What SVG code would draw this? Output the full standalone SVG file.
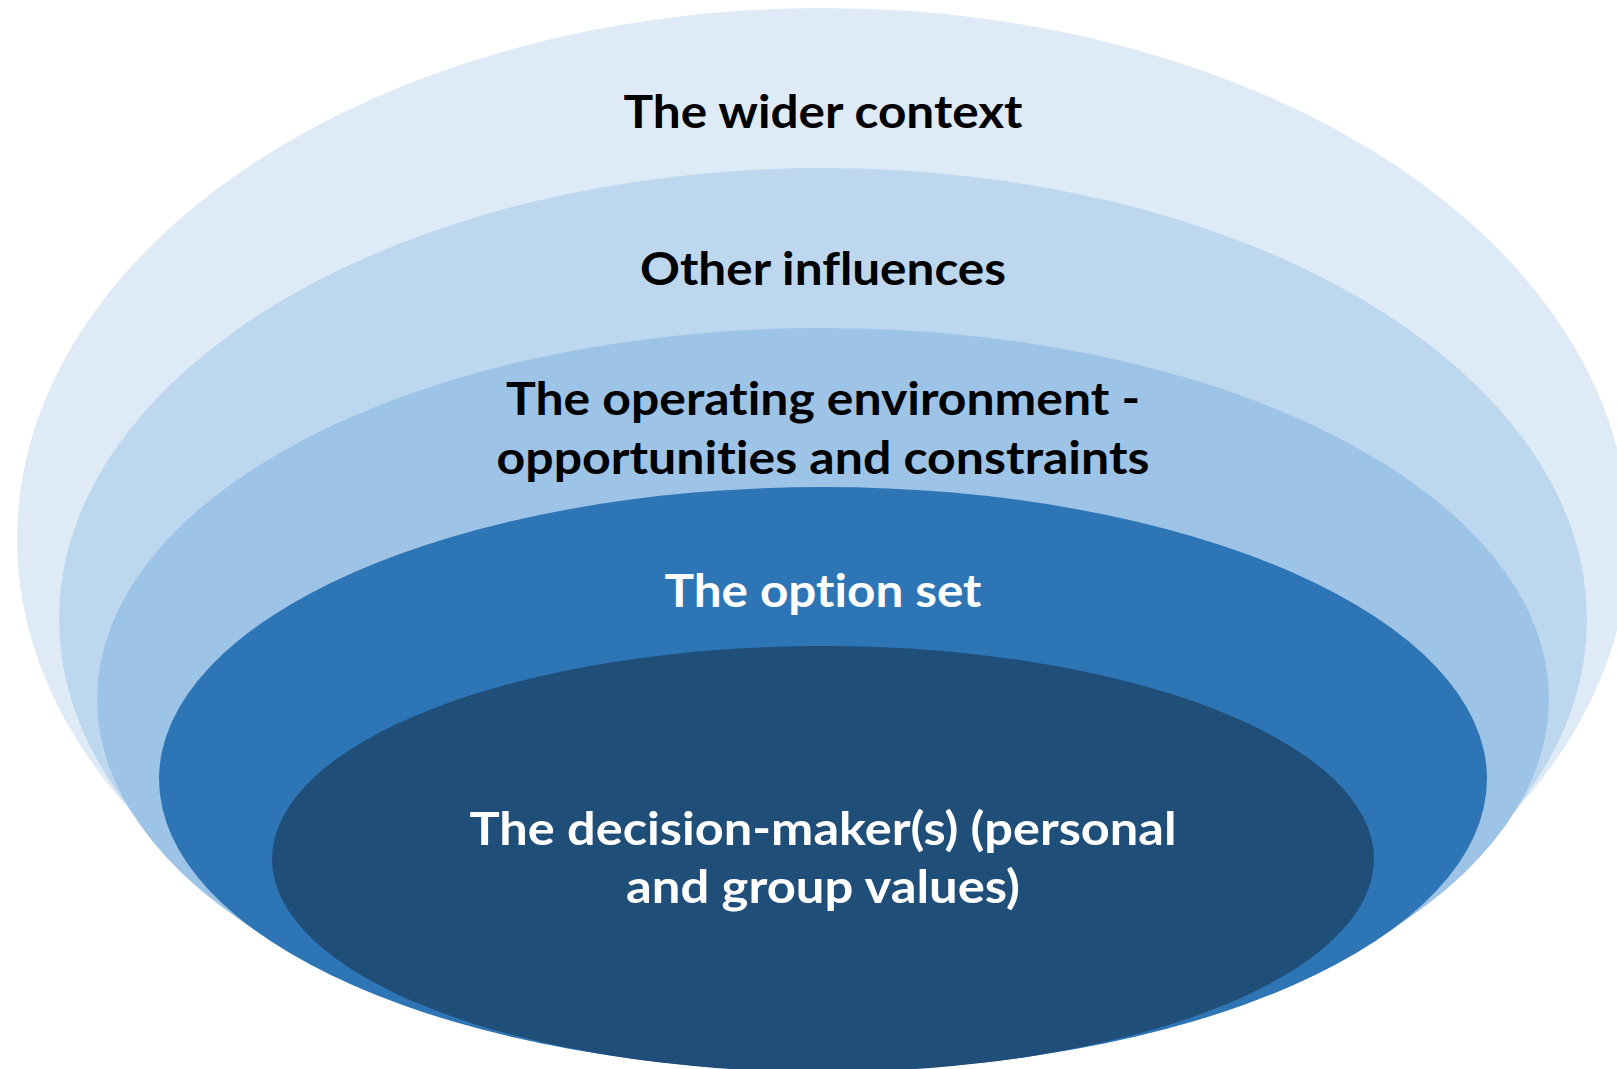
<svg xmlns="http://www.w3.org/2000/svg" width="1617" height="1069" viewBox="0 0 1617 1069">
<style>
  .lbl { font-family: Lato, "Open Sans", "Liberation Sans", sans-serif; font-weight: 700; font-size: 46px; text-anchor: middle; font-variant-ligatures: none; font-feature-settings: "liga" 0, "clig" 0, "dlig" 0; }
  .dark { fill: #000000; }
  .light { fill: #FFFFFF; }
</style>
<rect x="0" y="0" width="1617" height="1069" fill="#FFFFFF"/>
<g id="wider-context">
  <ellipse cx="823" cy="539" rx="806" ry="531" fill="#DEEBF7"/>
  <text class="lbl dark" x="823" y="128" textLength="399" lengthAdjust="spacingAndGlyphs">The wider context</text>
</g>
<g id="other-influences">
  <ellipse cx="823" cy="619" rx="764" ry="451" fill="#BDD7EE"/>
  <text class="lbl dark" x="823" y="285" textLength="366" lengthAdjust="spacingAndGlyphs">Other influences</text>
</g>
<g id="operating-environment">
  <ellipse cx="823" cy="699" rx="726" ry="371" fill="#9DC3E6"/>
  <text class="lbl dark" x="823" y="415" textLength="634" lengthAdjust="spacingAndGlyphs">The operating environment -</text>
  <text class="lbl dark" x="823" y="474" textLength="653" lengthAdjust="spacingAndGlyphs">opportunities and constraints</text>
</g>
<g id="option-set">
  <ellipse cx="823" cy="779" rx="664" ry="292" fill="#2E75B6"/>
  <text class="lbl light" x="823" y="607" textLength="317" lengthAdjust="spacingAndGlyphs">The option set</text>
</g>
<g id="decision-makers">
  <ellipse cx="823" cy="859" rx="551" ry="213" fill="#1F4E79"/>
  <text class="lbl light" x="823" y="845" textLength="707" lengthAdjust="spacingAndGlyphs">The decision-maker(s) (personal</text>
  <text class="lbl light" x="823" y="903" textLength="394" lengthAdjust="spacingAndGlyphs">and group values)</text>
</g>
<g id="connectors"></g>
</svg>
